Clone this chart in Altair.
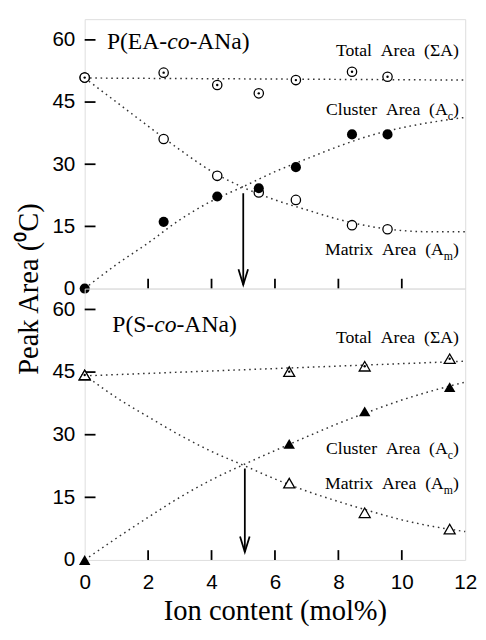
import altair as alt
import pandas as pd

# ---------------- data ----------------
# P(EA-co-ANa) panel
ea_ion = [0, 2.49, 4.18, 5.49, 6.66, 8.43, 9.55]
ea_total = [50.9, 52.1, 49.1, 47.1, 50.3, 52.3, 51.1]
ea_cluster = [0, 16.1, 22.2, 24.2, 29.3, 37.2, 37.2]
ea_matrix = [50.9, 36.1, 27.2, 23.2, 21.4, 15.3, 14.3]

# P(S-co-ANa) panel
s_ion = [0, 6.45, 8.83, 11.51]
s_total = [44.3, 45.1, 46.4, 48.2]
s_cluster = [0, 27.8, 35.6, 41.4]
s_matrix = [44.3, 18.4, 11.3, 7.4]

# dotted fit curves
fit_ion = [0, 1, 2, 3, 4, 5, 6, 7, 8, 9, 10, 11, 12]
ea_cluster_fit = [0, 5.8, 11.0, 16.6, 21.1, 24.6, 28.2, 31.3, 34.3, 36.9, 38.8, 40.2, 41.3]
ea_matrix_fit = [50.8, 45.0, 39.2, 33.5, 28.3, 24.4, 21.4, 19.0, 16.7, 15.0, 14.0, 13.7, 13.7]
s_cluster_fit = [0, 5.2, 10.2, 15.0, 19.2, 22.8, 26.2, 29.5, 32.7, 35.6, 38.3, 40.6, 42.6]
s_matrix_fit = [44.3, 38.9, 34.3, 29.9, 26.0, 22.7, 19.4, 16.5, 14.0, 11.7, 9.6, 8.0, 6.8]
total_fit_ion = [0, 12]
ea_total_fit = [50.8, 50.3]
s_total_fit = [44.1, 47.6]

# arrows (x, start, tip)
ea_arrow = [5.0, 23.0, 0.9]
s_arrow = [5.05, 21.9, 1.9]

# axes
x_labels = [0, 2, 4, 6, 8, 10, 12]
x_inner_ticks = [2, 4, 6, 8, 10]
y_labels = [0, 15, 30, 45, 60]
y_inner_ticks = [15, 30, 45, 60]

# annotations
ea_title = ["P(EA-", "co", "-ANa)"]
s_title = ["P(S-", "co", "-ANa)"]
ea_title_pos = [0.7, 57.8]
s_title_pos = [0.87, 54.5]
label_x = 11.8
ea_label_y = [56.2, 41.8, 8.2]   # total, cluster, matrix
s_label_y = [51.9, 25.4, 17.0]
total_text = "Total\u2002Area\u2002(\u03a3A)"
cluster_text = ["Cluster\u2002Area\u2002(A", "c", ")"]
matrix_text = ["Matrix\u2002Area\u2002(A", "m", ")"]

W = 387
H_TOP = 274
H_BOT = 276
SERIF = "Liberation Serif"
SANS = "Liberation Sans"
DOT = [1.6, 3.8]
TICK_FS = 21
TITLE_FS = 29


def make_panel(ion, total, cluster, matrix, c_fit, m_fit, t_fit, arrow,
               title_parts, title_pos, label_ys, height, is_top, circle):
    xscale = alt.Scale(domain=[0, 12], nice=False, zero=False)
    yscale = alt.Scale(domain=[0, 65], nice=False, zero=False)
    if is_top:
        X = alt.X("x:Q", scale=xscale, axis=None)
        Y = alt.Y("y:Q", scale=yscale,
                  axis=alt.Axis(values=y_labels, tickSize=0, domain=False, grid=False,
                                labelFont=SANS, labelFontSize=TICK_FS, labelPadding=10,
                                labelColor="black", labelFlush=False, labelOverlap=False,
                                title="Peak Area (\u2070C)", titleFont=SERIF,
                                titleFontSize=TITLE_FS, titleFontWeight="normal",
                                titleColor="black", titleX=-57, titleY=H_TOP,
                                titleAngle=-90, titleAlign="center",
                                titleBaseline="middle"))
    else:
        X = alt.X("x:Q", scale=xscale,
                  axis=alt.Axis(values=x_labels, tickSize=0, domain=False, grid=False,
                                labelFont=SANS, labelFontSize=TICK_FS, labelPadding=12,
                                labelColor="black", labelFlush=False, labelOverlap=False,
                                title="Ion content (mol%)", titleFont=SERIF,
                                titleFontSize=TITLE_FS, titleFontWeight="normal",
                                titleColor="black", titlePadding=5))
        Y = alt.Y("y:Q", scale=yscale,
                  axis=alt.Axis(values=y_labels, tickSize=0, domain=False, grid=False,
                                labelFont=SANS, labelFontSize=TICK_FS, labelPadding=10,
                                labelColor="black", labelFlush=False, labelOverlap=False,
                                title=None))

    fits = pd.concat([
        pd.DataFrame({"x": fit_ion, "y": c_fit, "s": "cluster"}),
        pd.DataFrame({"x": fit_ion, "y": m_fit, "s": "matrix"}),
        pd.DataFrame({"x": total_fit_ion, "y": t_fit, "s": "total"}),
    ])
    fit_layer = alt.Chart(fits).mark_line(
        color="#333", strokeWidth=1.5, strokeDash=DOT, interpolate="monotone"
    ).encode(x=X, y=Y, detail="s:N")

    arr = pd.DataFrame({"x": [arrow[0]], "y": [arrow[1]], "y2": [arrow[2]]})
    arrow_line = alt.Chart(arr).mark_rule(color="black", strokeWidth=1.8).encode(
        x=X, y=Y, y2="y2:Q")
    tip = pd.DataFrame({"x": [arrow[0]], "y": [arrow[2]]})
    arrow_head = alt.Chart(tip).mark_point(
        shape="M-0.65,-2.1L0,0L0.65,-2.1", filled=False, size=225,
        stroke="black", strokeWidth=1.8, opacity=1).encode(x=X, y=Y)

    shape = "circle" if circle else "triangle-up"
    open_size = 90 if circle else 125
    fill_size = 105 if circle else 135
    dm = pd.DataFrame({"x": ion, "y": matrix})
    dc = pd.DataFrame({"x": ion, "y": cluster})
    dt = pd.DataFrame({"x": ion, "y": total})
    m_layer = alt.Chart(dm).mark_point(shape=shape, size=open_size, filled=True,
                                       fill="white", stroke="black", strokeWidth=1.3,
                                       opacity=1).encode(x=X, y=Y)
    t_layer = alt.Chart(dt).mark_point(shape=shape, size=open_size, filled=True,
                                       fill="white", stroke="black", strokeWidth=1.3,
                                       opacity=1).encode(x=X, y=Y)
    t_dot = alt.Chart(dt).mark_point(shape="circle", size=6, filled=True,
                                     color="black", opacity=1,
                                     dy=0 if circle else 1).encode(x=X, y=Y)
    c_layer = alt.Chart(dc).mark_point(shape=shape, size=fill_size, filled=True,
                                       color="black", opacity=1).encode(x=X, y=Y)

    # inner ticks
    yt = pd.DataFrame({"y": y_inner_ticks})
    ytick_layer = alt.Chart(yt).mark_rule(color="black", strokeWidth=1.8).encode(
        y=Y, x=alt.value(0), x2=alt.value(11))
    xt = pd.DataFrame({"x": x_inner_ticks})
    xtick_layer = alt.Chart(xt).mark_rule(color="black", strokeWidth=1.8).encode(
        x=X, y=alt.value(height), y2=alt.value(height - 10))

    # panel title
    tp = []
    w1 = sum({"P": 0.556, "(": 0.333, "E": 0.611, "A": 0.722, "-": 0.333,
              "S": 0.556}[ch] for ch in title_parts[0]) * 24
    offs = [0, w1, w1 + 0.944 * 24]
    for i, part in enumerate(title_parts):
        d = pd.DataFrame({"x": [title_pos[0]], "y": [title_pos[1]], "t": [part]})
        tp.append(alt.Chart(d).mark_text(
            align="left", baseline="alphabetic", font=SERIF, fontSize=24,
            fontStyle="italic" if i == 1 else "normal", color="black", dx=offs[i]
        ).encode(x=X, y=Y, text="t:N"))

    # curve labels
    def txt(s, y, dx=0, dy=0, size=18):
        d = pd.DataFrame({"x": [label_x], "y": [y], "t": [s]})
        return alt.Chart(d).mark_text(
            align="right", baseline="alphabetic", font=SERIF, fontSize=size,
            color="black", dx=dx, dy=dy).encode(x=X, y=Y, text="t:N")

    labels = [
        txt(total_text, label_ys[0]),
        txt(cluster_text[2], label_ys[1]),
        txt(cluster_text[1], label_ys[1], dx=-6, dy=5, size=12),
        txt(cluster_text[0], label_ys[1], dx=-11.3),
        txt(matrix_text[2], label_ys[2]),
        txt(matrix_text[1], label_ys[2], dx=-6, dy=5, size=12),
        txt(matrix_text[0], label_ys[2], dx=-15.3),
    ]

    return alt.layer(
        fit_layer, arrow_line, arrow_head, ytick_layer, xtick_layer,
        m_layer, t_layer, t_dot, c_layer, *tp, *labels
    ).properties(width=W, height=height)


top = make_panel(ea_ion, ea_total, ea_cluster, ea_matrix, ea_cluster_fit,
                 ea_matrix_fit, ea_total_fit, ea_arrow, ea_title, ea_title_pos,
                 ea_label_y, H_TOP, True, True)
bottom = make_panel(s_ion, s_total, s_cluster, s_matrix, s_cluster_fit,
                    s_matrix_fit, s_total_fit, s_arrow, s_title, s_title_pos,
                    s_label_y, H_BOT, False, False)

chart = alt.vconcat(top, bottom, spacing=0, bounds="flush").configure_view(
    stroke="black", strokeWidth=2
).configure_axis(
    titleFont=SERIF, labelFont=SANS
).configure(
    padding={"left": 6, "top": 5, "right": 0, "bottom": 5},
    background="white"
)

chart.save("out.html", embed_options={"renderer": "svg", "actions": False})
